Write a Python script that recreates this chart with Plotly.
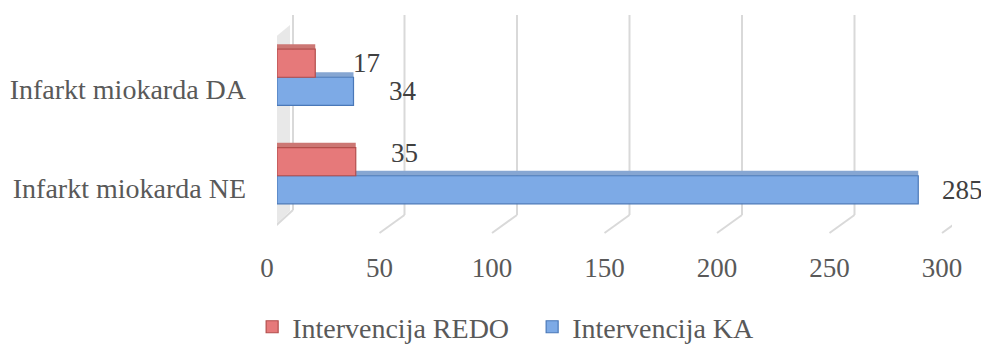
import plotly.graph_objects as go

# Categories (bottom to top) and values for both series
categories = ["Infarkt miokarda NE", "Infarkt miokarda DA"]
redo_values = [35, 17]     # Intervencija REDO
ka_values = [285, 34]      # Intervencija KA
x_ticks = [0, 50, 100, 150, 200, 250, 300]

series_names = ["Intervencija KA", "Intervencija REDO"]

FONT = "Liberation Serif"
AXIS_COLOR = "#595959"
LABEL_COLOR = "#404040"
GRID_COLOR = "#D9D9D9"

KA_FACE, KA_EDGE, KA_TOP = "#7DAAE6", "#4A78B8", "#86A6D2"
REDO_FACE, REDO_EDGE, REDO_TOP = "#E6797A", "#B24E4C", "#CC7774"

BARGAP = 0.43
bar_w = (1 - BARGAP) / 2

fig = go.Figure()
fig.add_bar(
    y=categories, x=ka_values, orientation="h", name=series_names[0],
    marker=dict(color=KA_FACE, line=dict(color=KA_EDGE, width=1.2)),
)
fig.add_bar(
    y=categories, x=redo_values, orientation="h", name=series_names[1],
    marker=dict(color=REDO_FACE, line=dict(color=REDO_EDGE, width=1.2)),
)

# Value labels set to the right of each bar end
label_xshift = {"ka": [22, 33], "redo": [33, 36]}
label_yshift = {"ka": [0, 0], "redo": [9, 0]}
annotations = []
shapes = []

# Perspective gridlines: back-wall vertical segment plus a slanted floor segment
for t in x_ticks[1:]:
    shapes.append(dict(type="line", xref="x", yref="paper", xsizemode="pixel", ysizemode="pixel",
                       xanchor=t, yanchor=0, x0=15, x1=15, y0=10, y1=210,
                       line=dict(color=GRID_COLOR, width=2), layer="below"))
    shapes.append(dict(type="line", xref="x", yref="paper", xsizemode="pixel", ysizemode="pixel",
                       xanchor=t, yanchor=0, x0=15, x1=-10, y0=10, y1=-8,
                       line=dict(color=GRID_COLOR, width=2), layer="below"))

# Left side wall with its soft shadow
shapes.append(dict(type="path", xref="x", yref="paper", xsizemode="pixel", ysizemode="pixel",
                   xanchor=0, yanchor=0,
                   path="M -4,186 L 13,200 L 13,14 L -4,-2 Z",
                   fillcolor="rgba(110,110,110,0.16)", line=dict(width=0), layer="below"))
shapes.append(dict(type="line", xref="x", yref="paper", xsizemode="pixel", ysizemode="pixel",
                   xanchor=0, yanchor=0, x0=-8, x1=-8, y0=192, y1=-7,
                   line=dict(color=GRID_COLOR, width=2), layer="below"))
shapes.append(dict(type="line", xref="x", yref="paper", xsizemode="pixel", ysizemode="pixel",
                   xanchor=0, yanchor=0, x0=16, x1=16, y0=210, y1=15,
                   line=dict(color=GRID_COLOR, width=2), layer="below"))
shapes.append(dict(type="line", xref="x", yref="paper", xsizemode="pixel", ysizemode="pixel",
                   xanchor=0, yanchor=0, x0=16, x1=-8, y0=15, y1=-7,
                   line=dict(color=GRID_COLOR, width=2), layer="below"))

for i, cat in enumerate(categories):
    for key, vals, off, top in (("ka", ka_values, -bar_w / 2, KA_TOP),
                                ("redo", redo_values, bar_w / 2, REDO_TOP)):
        annotations.append(dict(
            x=vals[i], y=i + off, xref="x", yref="y",
            text=str(vals[i]), showarrow=False, xanchor="left", yanchor="middle",
            xshift=label_xshift[key][i], yshift=label_yshift[key][i],
            font=dict(family=FONT, size=27, color=LABEL_COLOR),
        ))
        # top face strip giving the bar some depth
        shapes.append(dict(type="rect", xref="x", yref="y", ysizemode="pixel",
                           yanchor=i + off + bar_w / 2, x0=0, x1=vals[i], y0=0, y1=5,
                           fillcolor=top, line=dict(width=0), layer="below"))

fig.update_layout(
    width=981, height=347,
    margin=dict(l=277, r=29, t=28, b=122, autoexpand=False),
    paper_bgcolor="white", plot_bgcolor="white",
    barmode="group", bargap=BARGAP, bargroupgap=0,
    font=dict(family=FONT, size=27, color=AXIS_COLOR),
    xaxis=dict(range=[0, 300], tickvals=x_ticks, showgrid=False, zeroline=False,
               showline=False, ticks="", ticklabelshift=-10, ticklabelstandoff=24,
               tickfont=dict(family=FONT, size=27, color=AXIS_COLOR), fixedrange=True),
    yaxis=dict(type="category", categoryorder="array", categoryarray=categories,
               range=[-0.5, 1.5], showgrid=False, zeroline=False, showline=False,
               ticks="", ticklabelshift=12, ticklabelstandoff=30,
               tickfont=dict(family=FONT, size=28, color=AXIS_COLOR), fixedrange=True),
    legend=dict(orientation="h", x=0.378, xanchor="center", y=-0.518, yanchor="middle",
                traceorder="reversed", entrywidth=235,
                font=dict(family=FONT, size=28, color=AXIS_COLOR),
                bgcolor="rgba(0,0,0,0)"),
    annotations=annotations,
    shapes=shapes,
)

fig.write_html("out.html")
